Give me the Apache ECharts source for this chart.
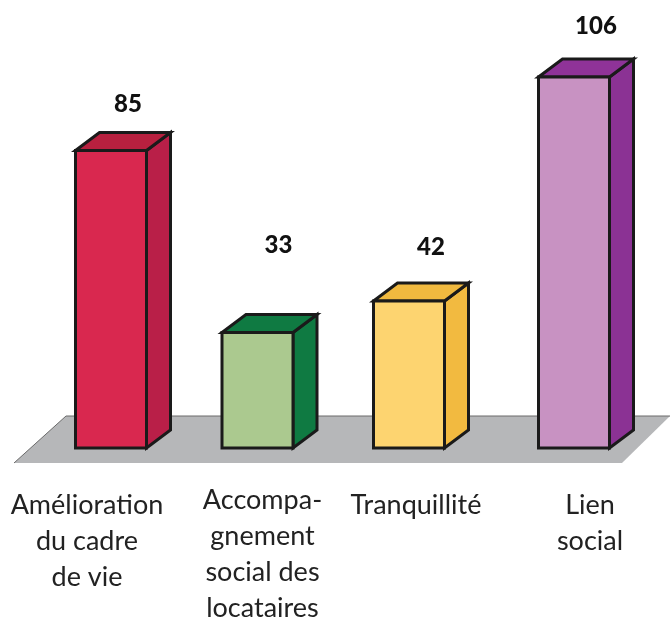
<!DOCTYPE html>
<html>
<head>
<meta charset="utf-8">
<style>
  html, body { margin: 0; padding: 0; background: #fff; }
  #chart { width: 670px; height: 619px; }
</style>
<script src="https://cdn.jsdelivr.net/npm/echarts@6/dist/echarts.min.js"></script>
</head>
<body>
<div id="chart"></div>
<script>
const categories = ['Amélioration\ndu cadre\nde vie', 'Accompa-\ngnement\nsocial des\nlocataires', 'Tranquillité', 'Lien\nsocial']
const values = [85, 33, 42, 106]

// colours of each box: front, side, top
const frontColors = ['#d9284f', '#abc98f', '#fdd470', '#c892c2']
const sideColors = ['#b91f48', '#0f7a42', '#f2ba40', '#8b3294']
const topColors = ['#b8203f', '#0f7a42', '#f0b93f', '#8f3398']

// the boxes are not evenly spaced in the original, so nudge them off the band centre
const barNudge = [0, -7.5, -10, 1]
const valueLabelOffset = [[17, -46], [21, -87], [22, -54], [22, -51]]
const catLabelOffset = [[-24, 39], [5, 34], [7, 39], [16, 39]]
const barWidth = 71
const depthX = 24
const depthY = -18
const stroke = { stroke: '#1a1a1a', lineWidth: 3, lineJoin: 'miter' }

const chart = echarts.init(document.getElementById('chart'))

const renderBox = (params, api) => {
  const i = api.value(0)
  const topPt = api.coord([i, api.value(1)])
  const basePt = api.coord([i, 0])
  const x0 = topPt[0] + barNudge[i] - barWidth / 2
  const x1 = x0 + barWidth
  const yTop = topPt[1]
  const yBase = basePt[1]
  const poly = (points, fill) => ({
    type: 'polygon',
    shape: { points },
    style: { fill, ...stroke }
  })
  return {
    type: 'group',
    children: [
      poly([[x1, yTop], [x1 + depthX, yTop + depthY], [x1 + depthX, yBase + depthY], [x1, yBase]], sideColors[i]),
      poly([[x0, yTop], [x0 + depthX, yTop + depthY], [x1 + depthX, yTop + depthY], [x1, yTop]], topColors[i]),
      poly([[x0, yTop], [x1, yTop], [x1, yBase], [x0, yBase]], frontColors[i]),
      {
        type: 'text',
        x: topPt[0] + barNudge[i] + valueLabelOffset[i][0],
        y: yTop + valueLabelOffset[i][1],
        style: {
          text: String(api.value(1)),
          fontFamily: 'Lato',
          fontWeight: 900,
          fontSize: 24,
          fill: '#111',
          align: 'center',
          verticalAlign: 'middle'
        }
      },
      {
        type: 'text',
        x: topPt[0] + barNudge[i] + catLabelOffset[i][0],
        y: yBase + catLabelOffset[i][1],
        style: {
          text: categories[i],
          fontFamily: 'Lato',
          fontSize: 27,
          lineHeight: 36,
          fill: '#222',
          align: 'center',
          verticalAlign: 'top'
        }
      }
    ]
  }
}

const option = {
  backgroundColor: '#fff',
  animation: false,
  grid: { left: 34, right: 20, top: 28, bottom: 171 },
  xAxis: { type: 'category', data: categories, show: false },
  yAxis: { type: 'value', min: 0, max: 120, show: false },
  graphic: [
    {
      type: 'polygon',
      z: 0,
      shape: { points: [[14, 463], [66, 416], [670, 416], [622, 463]] },
      style: { fill: '#b6b7b9' }
    },
    {
      type: 'polyline',
      z: 0,
      shape: { points: [[14, 463], [66, 416], [670, 416]] },
      style: { fill: 'none', stroke: '#6b6b6b', lineWidth: 1 }
    }
  ],
  series: [
    {
      type: 'custom',
      z: 5,
      clip: false,
      renderItem: renderBox,
      encode: { x: 0, y: 1 },
      data: categories.map((c, i) => [i, values[i]])
    }
  ]
}

chart.setOption(option)
</script>
</body>
</html>
